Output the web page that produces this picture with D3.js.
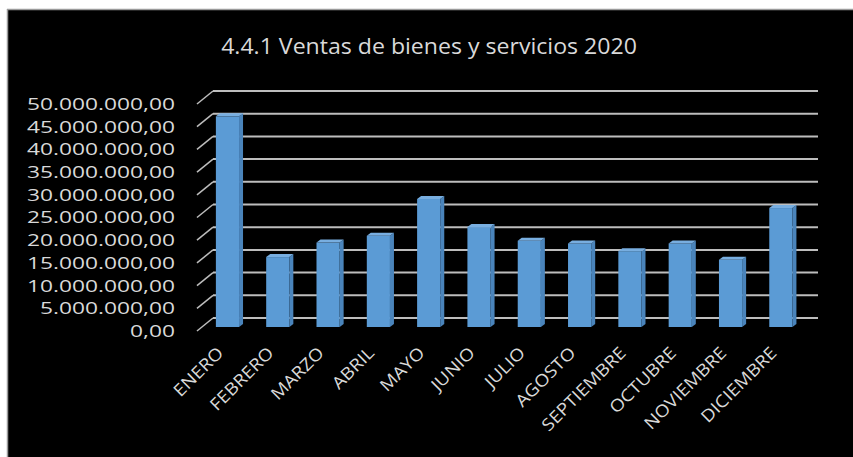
<!DOCTYPE html>
<html>
<head>
<meta charset="utf-8">
<script src="https://cdn.jsdelivr.net/npm/d3@7"></script>
<style>
  html, body { margin: 0; padding: 0; background: #ffffff; }
  svg { display: block; }
  text { font-family: "Open Sans", "DejaVu Sans", sans-serif; fill: #d9d9d9; }
</style>
</head>
<body>
<svg id="chart" width="853" height="457"></svg>
<script>
// ---- data ----
const title = "4.4.1 Ventas de bienes y servicios 2020";
const months = ["ENERO", "FEBRERO", "MARZO", "ABRIL", "MAYO", "JUNIO", "JULIO",
                "AGOSTO", "SEPTIEMBRE", "OCTUBRE", "NOVIEMBRE", "DICIEMBRE"];
const sales = [46400000, 15400000, 18600000, 20100000, 28200000, 22000000,
               19000000, 18400000, 16700000, 18400000, 14800000, 26200000];
const yTicks = [0, 5000000, 10000000, 15000000, 20000000, 25000000,
                30000000, 35000000, 40000000, 45000000, 50000000];

// ---- layout ----
const W = 853, H = 457;
const svg = d3.select("#chart");
const depthX = 16, depthY = 13;      // wall depth offset

// frame
svg.append("rect").attr("x", 7).attr("y", 9).attr("width", W - 7).attr("height", H - 9)
   .attr("fill", "#000");
svg.append("line").attr("x1", 7).attr("x2", W).attr("y1", 9.5).attr("y2", 9.5)
   .attr("stroke", "#9a9a9a").attr("stroke-width", 1.5);
svg.append("line").attr("x1", 7.5).attr("x2", 7.5).attr("y1", 9).attr("y2", H)
   .attr("stroke", "#9a9a9a").attr("stroke-width", 1.5);

// scales
const x = d3.scaleBand().domain(months).range([204.3, 808]).paddingInner(0.5).paddingOuter(0.25);
const yBack = d3.scaleLinear().domain([0, 50000000]).range([318, 91]);
const yFront = d3.scaleLinear().domain([0, 50000000]).range([318 + depthY, 91 + depthY]);
const yBar = d3.scaleLinear().domain([0, 50000000]).range([327, 100]);
const backLeft = 213, backRight = 818;

// gridlines (back wall + side diagonal)
const grid = svg.append("g");
yTicks.forEach(t => {
  grid.append("line")
    .attr("x1", backLeft).attr("x2", backRight)
    .attr("y1", yBack(t)).attr("y2", yBack(t))
    .attr("stroke", "#bdbdbd").attr("stroke-width", 2);
  grid.append("line")
    .attr("x1", backLeft - depthX).attr("y1", yFront(t))
    .attr("x2", backLeft).attr("y2", yBack(t))
    .attr("stroke", "#bdbdbd").attr("stroke-width", 1.5);
});

// y axis labels
const fmt = v => {
  const s = d3.format(",.2f")(v);
  return s.replace(/,/g, "#").replace(".", ",").replace(/#/g, ".");
};
const yl = svg.append("g");
const yTexts = yTicks.map(t => yl.append("text")
    .attr("text-anchor", "end")
    .attr("dominant-baseline", "central")
    .style("font-size", "15.5px")
    .text(fmt(t)));
const yNat = d3.max(yTexts, s => s.node().getComputedTextLength());
const ky = 148 / yNat;
yTexts.forEach((s, i) => s.attr("transform", `translate(175,${yFront(yTicks[i])}) scale(${ky},1)`));

// bars (3D look)
const dx = 4, dy = 3;
const bars = svg.append("g");
months.forEach((m, i) => {
  const x0 = x(m) - 1, w = x.bandwidth() - 2;
  const yt = yBar(sales[i]), yb = yBar(0);
  bars.append("rect").attr("x", x0).attr("y", yt).attr("width", w).attr("height", yb - yt)
      .attr("fill", "#5b9bd5");
  bars.append("polygon")
      .attr("points", [[x0 + w, yt], [x0 + w + dx, yt - dy], [x0 + w + dx, yb - dy], [x0 + w, yb]].join(" "))
      .attr("fill", "#4a84bb");
  bars.append("polygon")
      .attr("points", [[x0, yt], [x0 + dx, yt - dy], [x0 + w + dx, yt - dy], [x0 + w, yt]].join(" "))
      .attr("fill", "#78aee0");
});

// x axis labels
const xl = svg.append("g");
months.forEach(m => {
  const cx = x(m) + x.bandwidth() / 2 - 5;
  xl.append("text")
    .attr("transform", `translate(${cx},354) rotate(-45) scale(1.12,1)`)
    .attr("text-anchor", "end")
    .style("font-size", "17px")
    .text(m);
});

// title
const tt = svg.append("text")
  .attr("text-anchor", "middle")
  .style("font-size", "21px")
  .text(title);
const kt = 416 / tt.node().getComputedTextLength();
tt.attr("transform", `translate(429,54) scale(${kt},1)`);
</script>
</body>
</html>
